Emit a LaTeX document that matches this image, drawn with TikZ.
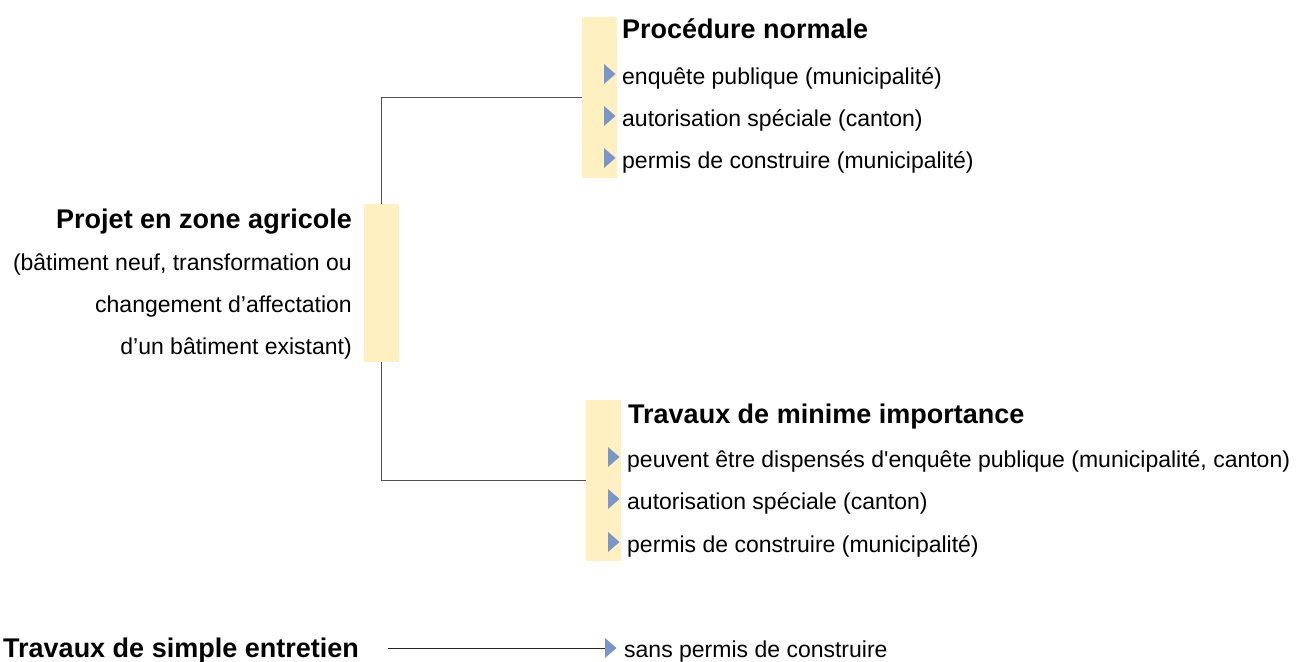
\documentclass[tikz,border=0pt]{standalone}
\usepackage{fontspec}
\setmainfont{Liberation Sans}[Ligatures=TeXOff]
\usetikzlibrary{backgrounds}
\definecolor{baryellow}{RGB}{255,240,194}
\definecolor{markblue}{RGB}{122,149,200}
\definecolor{linegray}{RGB}{80,80,80}
\tikzset{
  bar/.style={fill=baryellow, draw=none, inner sep=0pt, minimum width=35pt},
  head/.style={inner sep=0pt, font=\fontsize{27}{32}\selectfont\bfseries},
  body/.style={inner sep=0pt, font=\fontsize{23}{28}\selectfont},
  conn/.style={draw=linegray, line width=1.2pt},
  arrowline/.style={draw=black!85, line width=1pt},
  marker/.pic={\fill[markblue] (0,-10) -- (11.5,0) -- (0,10) -- cycle;}
}
\begin{document}
\begin{tikzpicture}[x=1pt, y=-1pt]
\useasboundingbox (0,0) rectangle (1297,661);
% bars
\node[bar, minimum height=161pt] (topbar) at (599.5,97.5) {};
\node[bar, minimum height=158pt] (midbar) at (381.5,283) {};
\node[bar, minimum height=161pt] (botbar) at (603.5,480.5) {};
% connectors behind bars
\begin{scope}[on background layer]
\draw[conn] (midbar.center) |- (topbar.west);
\draw[conn] (midbar.center) |- (botbar.west);
\end{scope}
% left group
\node[head, anchor=base east] (projet) at (352,228) {Projet en zone agricole};
\node[body, anchor=base east] (l1) at (352,270) {(bâtiment neuf, transformation ou};
\node[body, anchor=base east] (l2) at (352,312) {changement d’affectation};
\node[body, anchor=base east] (l3) at (352,354) {d’un bâtiment existant)};
% top group
\node[head, anchor=base west] (normale) at (622,39) {Procédure normale};
\pic at (604,74) {marker};
\node[body, anchor=base west] (n1) at (622,84) {enquête publique (municipalité)};
\pic at (604,116) {marker};
\node[body, anchor=base west] (n2) at (622,126) {autorisation spéciale (canton)};
\pic at (604,158) {marker};
\node[body, anchor=base west] (n3) at (622,168) {permis de construire (municipalité)};
% bottom group
\node[head, anchor=base west] (minime) at (628,423) {Travaux de minime importance};
\pic at (608,457) {marker};
\node[body, anchor=base west] (m1) at (627,467) {peuvent être dispensés d'enquête publique (municipalité, canton)};
\pic at (608,499) {marker};
\node[body, anchor=base west] (m2) at (627,509) {autorisation spéciale (canton)};
\pic at (608,542) {marker};
\node[body, anchor=base west] (m3) at (627,552) {permis de construire (municipalité)};
% simple entretien
\node[head, anchor=base west] (entretien) at (3,657) {Travaux de simple entretien};
\node[body, anchor=base west] (sans) at (624,657) {sans permis de construire};
\coordinate (lstart) at (388,648);
\coordinate (lend) at (605,648);
\draw[arrowline] (lstart) -- (lend);
\pic at (lend) {marker};
\end{tikzpicture}
\end{document}
